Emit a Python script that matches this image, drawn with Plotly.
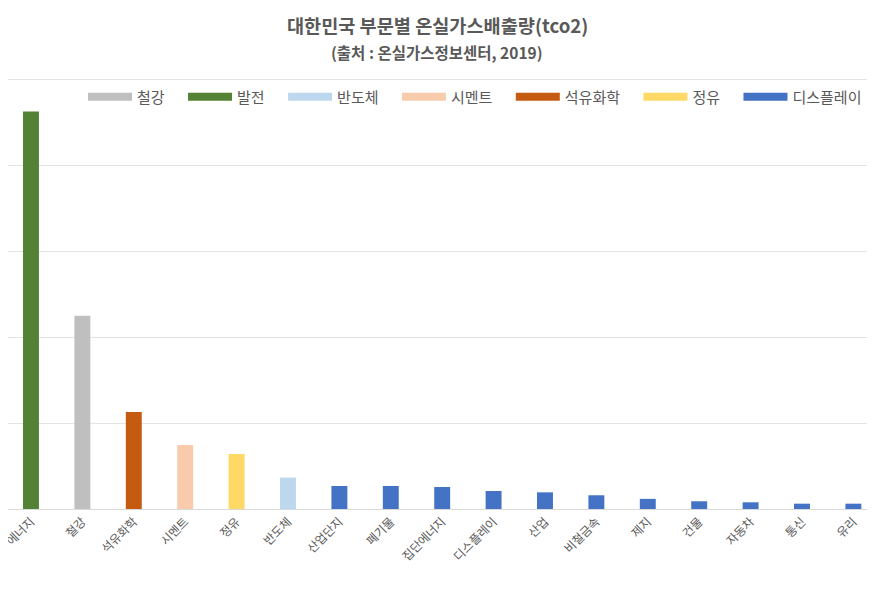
import plotly.graph_objects as go

categories = ["발전·에너지", "철강", "석유화학", "시멘트", "정유", "반도체", "산업단지", "폐기물",
              "집단에너지", "디스플레이", "산업", "비철금속", "제지", "건물", "자동차", "통신", "유리"]
emissions = [231.5e6, 112.5e6, 56.5e6, 37.3e6, 32.0e6, 18.3e6, 13.4e6, 13.4e6,
             12.8e6, 10.5e6, 9.7e6, 8.0e6, 5.9e6, 4.5e6, 3.9e6, 3.1e6, 3.1e6]
# legend group of each category (colour group)
groups = ["발전", "철강", "석유화학", "시멘트", "정유", "반도체", "디스플레이", "디스플레이",
          "디스플레이", "디스플레이", "디스플레이", "디스플레이", "디스플레이", "디스플레이",
          "디스플레이", "디스플레이", "디스플레이"]
legend_order = ["철강", "발전", "반도체", "시멘트", "석유화학", "정유", "디스플레이"]
colors = {"철강": "#BFBFBF", "발전": "#548235", "반도체": "#BDD7EE", "시멘트": "#F8CBAD",
          "석유화학": "#C55A11", "정유": "#FFD966", "디스플레이": "#4472C4"}

title_text = "대한민국 부문별 온실가스배출량(tco2)"
subtitle_text = "(출처 : 온실가스정보센터, 2019)"

FONT = "Noto Sans CJK KR"
GREY = "#595959"
PAD = "\u00a0" * 4

W, H = 875, 593
T, B = 70, 92
PH = H - T - B

fig = go.Figure()
for g in legend_order:
    xs = [c for c, gg in zip(categories, groups) if gg == g]
    ys = [v for v, gg in zip(emissions, groups) if gg == g]
    fig.add_trace(go.Bar(x=xs, y=ys, name=g, marker_color=colors[g], marker_line_width=0,
                         showlegend=False, width=0.31))
for g in legend_order:
    fig.add_trace(go.Scatter(x=[None], y=[None], mode="lines", name=g + PAD,
                             line=dict(color=colors[g], width=8)))

fig.update_layout(
    width=W, height=H,
    margin=dict(l=0, r=0, t=T, b=B),
    paper_bgcolor="white", plot_bgcolor="white",
    barmode="overlay",
    font=dict(family=FONT, color=GREY, size=12),
    title=dict(text="<b>" + title_text + "</b>", x=0.491, xanchor="center",
               y=1 - 18 / H, yref="container", yanchor="middle",
               font=dict(family=FONT, size=18.6, color=GREY)),
    legend=dict(orientation="h", x=75 / W, xanchor="left", y=1 - 19 / PH, yanchor="middle",
                font=dict(family=FONT, size=15, color=GREY), itemwidth=44,
                bgcolor="rgba(0,0,0,0)"),
    xaxis=dict(categoryorder="array", categoryarray=categories, range=[-0.447, 16.576],
               tickangle=-45, tickfont=dict(family=FONT, size=12, color=GREY),
               showline=True, linecolor="#D9D9D9", linewidth=1, ticks="", showgrid=False,
               automargin=False),
    yaxis=dict(range=[0, 251e6], dtick=50e6, showgrid=True, gridcolor="#E3E3E3", gridwidth=1,
               showticklabels=False, zeroline=False, ticks="", automargin=False),
    annotations=[dict(text="<b>" + subtitle_text + "</b>", xref="paper", yref="paper",
                      x=0.490, y=1 + 26 / PH, xanchor="center", yanchor="middle",
                      showarrow=False, font=dict(family=FONT, size=15.5, color=GREY))],
)

fig.write_html("out.html")
